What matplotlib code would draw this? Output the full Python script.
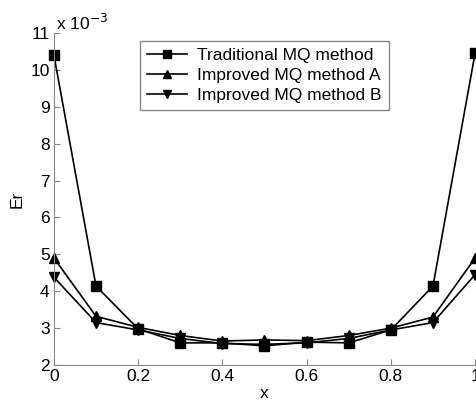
import matplotlib
matplotlib.use("Agg")
import matplotlib.pyplot as plt

# ── data (Er in units of 1e-3) ───────────────────────────────────────────────
X = [0.0, 0.1, 0.2, 0.3, 0.4, 0.5, 0.6, 0.7, 0.8, 0.9, 1.0]
ER_TRAD = [10.40, 4.14, 2.98, 2.60, 2.60, 2.52, 2.62, 2.60, 2.95, 4.14, 10.45]
ER_A    = [4.90, 3.32, 3.02, 2.80, 2.65, 2.68, 2.66, 2.80, 3.00, 3.30, 4.90]
ER_B    = [4.38, 3.15, 2.95, 2.72, 2.58, 2.56, 2.60, 2.72, 2.95, 3.15, 4.45]
LABELS  = ["Traditional MQ method", "Improved MQ method A", "Improved MQ method B"]

plt.rcParams.update({
    "font.family": ["Liberation Sans", "DejaVu Sans"],
    "font.size": 12.5,
})

fig = plt.figure(figsize=(4.77, 4.04), dpi=100)
ax = fig.add_axes([0.113, 0.0965, 0.883, 0.822])

kw = dict(color="black", lw=1.2, ms=6.5, clip_on=False)
ax.plot(X, ER_TRAD, "-s", label=LABELS[0], **kw)
ax.plot(X, ER_A, "-^", label=LABELS[1], **kw)
ax.plot(X, ER_B, "-v", label=LABELS[2], **kw)

ax.set_xlim(0, 1)
ax.set_ylim(2, 11)
ax.set_xticks([0, 0.2, 0.4, 0.6, 0.8, 1])
ax.set_xticklabels(["0", "0.2", "0.4", "0.6", "0.8", "1"])
ax.set_yticks(range(2, 12))
ax.tick_params(direction="in", length=4, color="#888888", labelsize=12.5, pad=3)

for side in ("top", "right"):
    ax.spines[side].set_visible(False)
for side in ("left", "bottom"):
    ax.spines[side].set_color("#888888")

ax.set_xlabel("x", fontsize=12.5, labelpad=1)
ax.set_ylabel("Er", fontsize=12.5, labelpad=4)
ax.text(0.005, 1.0, r"x 10$^{-3}$", transform=ax.transAxes, fontsize=12.5,
        ha="left", va="bottom")

leg = ax.legend(loc="upper left", bbox_to_anchor=(0.204, 0.976), fontsize=12.5,
                fancybox=False, edgecolor="#888888", framealpha=1, markerscale=0.8,
                handlelength=2.3, borderpad=0.4, labelspacing=0.28, handletextpad=0.6,
                borderaxespad=0)
leg.get_frame().set_linewidth(1.0)

fig.savefig("out.png", dpi=100)
